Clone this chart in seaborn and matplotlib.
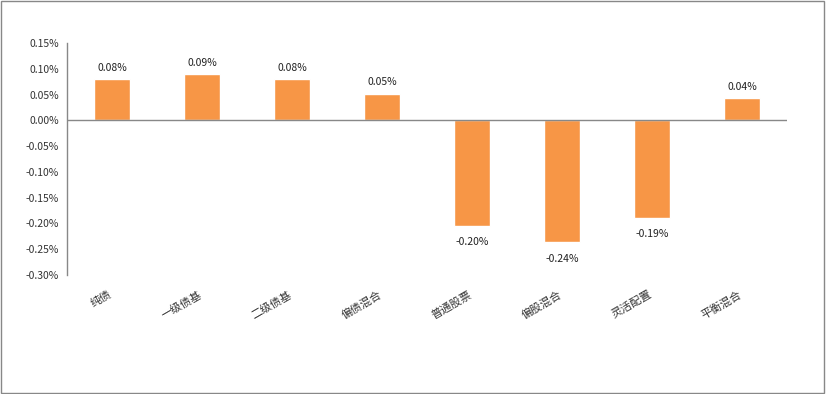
import matplotlib
matplotlib.use("Agg")
import matplotlib.pyplot as plt
import seaborn as sns
import pandas as pd
from matplotlib.patches import Rectangle

categories = ["纯债", "一级债基", "二级债基", "偏债混合", "普通股票", "偏股混合", "灵活配置", "平衡混合"]
values = [0.080, 0.089, 0.080, 0.052, -0.204, -0.236, -0.189, 0.044]
yticks = [0.15, 0.10, 0.05, 0.00, -0.05, -0.10, -0.15, -0.20, -0.25, -0.30]

sns.set_theme(style="white")
plt.rcParams["font.family"] = ["Noto Sans CJK SC", "DejaVu Sans"]

df = pd.DataFrame({"category": categories, "value": values})

fig = plt.figure(figsize=(8.26, 3.94), dpi=100)
ax = fig.add_axes([67 / 826, 1 - 275 / 394, 720 / 826, 232 / 394])

sns.barplot(data=df, x="category", y="value", color="#F79646", width=0.4,
            saturation=1, ax=ax)

ax.set_ylim(-0.30, 0.15)
ax.set_xlim(-0.5, len(categories) - 0.5)
ax.set_yticks(yticks)
ax.set_yticklabels([f"{t:.2f}%" for t in yticks], fontsize=7.5, color="#333333")
ax.set_xticks([i - 0.04 for i in range(len(categories))])
ax.set_xticklabels(categories, rotation=30, ha="right", rotation_mode="anchor",
                   fontsize=8, color="#333333")
ax.tick_params(axis="x", length=0, pad=10)
ax.tick_params(axis="y", length=0, pad=6)
ax.set_xlabel("")
ax.set_ylabel("")

for side in ["top", "right", "bottom"]:
    ax.spines[side].set_visible(False)
ax.spines["left"].set_color("#888888")
ax.spines["left"].set_linewidth(1)
ax.axhline(0, color="#888888", linewidth=1, zorder=3)

for i, v in enumerate(values):
    off = 8 if v >= 0 else -12
    ax.annotate(f"{v:.2f}%", (i, v), xytext=(0, off), textcoords="offset points",
                ha="center", va="center", fontsize=7.5, color="#222222")

fig.patches.append(Rectangle((0.001, 0.002), 0.997, 0.995, transform=fig.transFigure,
                             fill=False, edgecolor="#888888", linewidth=1))

fig.savefig("out.png", dpi=100)
plt.close(fig)
